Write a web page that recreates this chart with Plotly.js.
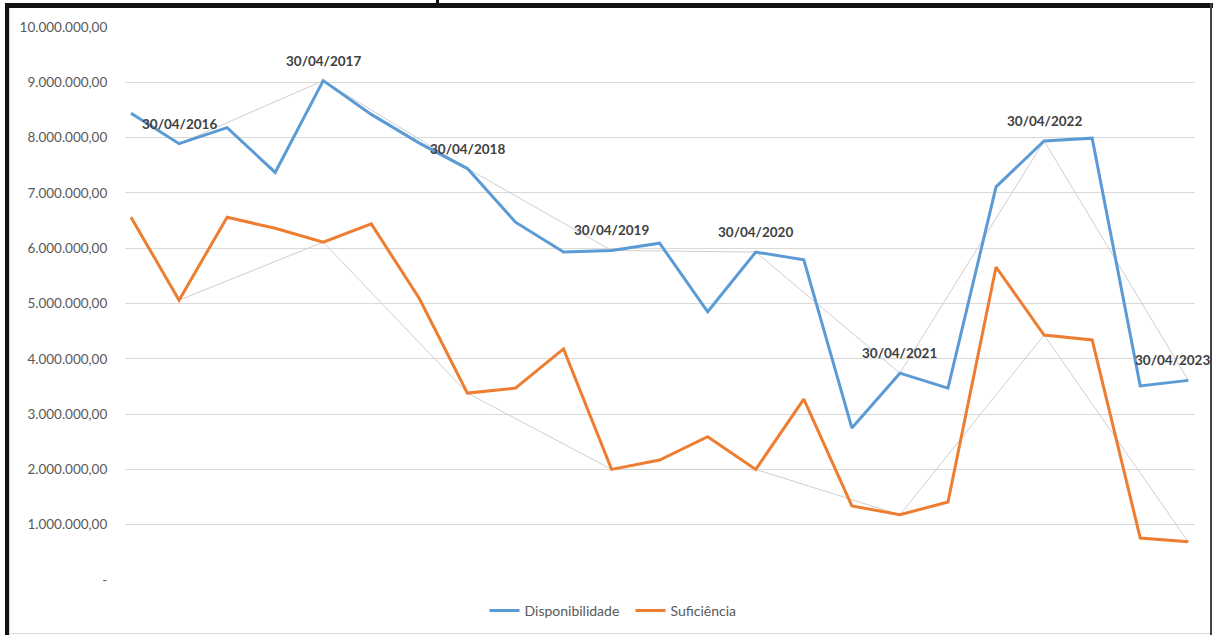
<!DOCTYPE html>
<html>
<head>
<meta charset="utf-8">
<script src="https://cdn.plot.ly/plotly-3.0.1.min.js"></script>
<style>
  html, body { margin: 0; padding: 0; background: #fff; }
  #wrap { position: relative; width: 1213px; height: 635px; overflow: hidden; }
  #chart { position: absolute; left: 0; top: 0; width: 1213px; height: 635px; }
  .bar { position: absolute; pointer-events: none; }
</style>
</head>
<body>
<div id="wrap">
  <div id="chart"></div>
  <div class="bar" style="left:5px; top:3px; width:1208px; height:5px; background:#111;"></div>
  <div class="bar" style="left:5px; top:3px; width:4px; height:632px; background:#111;"></div>
  <div class="bar" style="left:1210px; top:3px; width:2px; height:632px; background:#444;"></div>
  <div class="bar" style="left:9px; top:8px; width:1px; height:627px; background:#d9d9d9;"></div>
  <div class="bar" style="left:9px; top:633px; width:1201px; height:1px; background:#d9d9d9;"></div>
  <div class="bar" style="left:436px; top:0px; width:3px; height:3px; background:#111;"></div>
</div>
<script>
// Dates of each observation (every 4 months)
const categories = [
  '31/12/2015','30/04/2016','31/08/2016','31/12/2016',
  '30/04/2017','31/08/2017','31/12/2017',
  '30/04/2018','31/08/2018','31/12/2018',
  '30/04/2019','31/08/2019','31/12/2019',
  '30/04/2020','31/08/2020','31/12/2020',
  '30/04/2021','31/08/2021','31/12/2021',
  '30/04/2022','31/08/2022','31/12/2022',
  '30/04/2023'
];
const disponibilidade = [
  8440000, 7890000, 8180000, 7370000,
  9030000, 8420000, 7900000,
  7440000, 6470000, 5930000,
  5960000, 6090000, 4850000,
  5930000, 5790000, 2750000,
  3740000, 3470000, 7110000,
  7940000, 7990000, 3510000,
  3610000
];
const suficiencia = [
  6560000, 5060000, 6560000, 6360000,
  6110000, 6440000, 5090000,
  3380000, 3470000, 4180000,
  2000000, 2170000, 2590000,
  2000000, 3270000, 1340000,
  1180000, 1410000, 5660000,
  4430000, 4340000, 760000,
  690000
];
const yTickVals = [0,1000000,2000000,3000000,4000000,5000000,6000000,7000000,8000000,9000000,10000000];
const yTickText = ['-','1.000.000,00','2.000.000,00','3.000.000,00','4.000.000,00','5.000.000,00','6.000.000,00','7.000.000,00','8.000.000,00','9.000.000,00','10.000.000,00'];

const BLUE = '#5B9BD5', ORANGE = '#ED7D31', GRAY = '#cfcfcf';

// Annual (30/04) points
const aprCats = categories.filter(c => c.startsWith('30/04'));
const aprDisp = categories.map((c,i) => [c, disponibilidade[i]]).filter(p => p[0].startsWith('30/04')).map(p => p[1]);
const aprSuf = categories.map((c,i) => [c, suficiencia[i]]).filter(p => p[0].startsWith('30/04')).map(p => p[1]);

const traces = [
  {x: aprCats, y: aprDisp, type: 'scatter', mode: 'lines', line: {color: GRAY, width: 1}, showlegend: false, hoverinfo: 'skip'},
  {x: aprCats, y: aprSuf, type: 'scatter', mode: 'lines', line: {color: GRAY, width: 1}, showlegend: false, hoverinfo: 'skip'},
  {x: categories, y: disponibilidade, type: 'scatter', mode: 'lines', name: 'Disponibilidade', line: {color: BLUE, width: 3}},
  {x: categories, y: suficiencia, type: 'scatter', mode: 'lines', name: 'Suficiência', line: {color: ORANGE, width: 3}}
];

const annotations = aprCats.map((c, k) => ({
  x: c, y: aprDisp[k], xref: 'x', yref: 'y',
  text: '<b>' + c + '</b>', showarrow: false,
  yanchor: 'middle', xanchor: 'center', yshift: 20,
  xshift: (k === aprCats.length - 1) ? -16 : 0,
  font: {family: 'Lato, "Open Sans", sans-serif', size: 13.5, color: '#404040'}
}));

const layout = {
  width: 1213, height: 635,
  margin: {l: 125, r: 18, t: 27, b: 55, autoexpand: false},
  paper_bgcolor: 'rgba(0,0,0,0)', plot_bgcolor: 'rgba(0,0,0,0)',
  font: {family: 'Lato, "Open Sans", sans-serif', size: 13, color: '#595959'},
  xaxis: {
    type: 'category', categoryorder: 'array', categoryarray: categories,
    range: [-0.125, 22.14], showticklabels: false, showgrid: false,
    zeroline: false, showline: false, ticks: ''
  },
  yaxis: {
    range: [0, 10000000], tickvals: yTickVals, ticktext: yTickText,
    showgrid: true, gridcolor: '#d9d9d9', gridwidth: 1, zeroline: false,
    showline: false, ticks: 'outside', ticklen: 14, tickcolor: 'rgba(0,0,0,0)',
    tickfont: {family: 'Lato, "Open Sans", sans-serif', size: 13.5, color: '#595959'}
  },
  legend: {
    orientation: 'h', x: 0.336, xanchor: 'left', y: -0.056, yanchor: 'middle',
    entrywidth: 101, entrywidthmode: 'pixels',
    font: {family: 'Lato, "Open Sans", sans-serif', size: 14, color: '#595959'},
    bgcolor: 'rgba(0,0,0,0)'
  },
  annotations: annotations,
  showlegend: true
};

Plotly.newPlot('chart', traces, layout, {displayModeBar: false, staticPlot: true});
</script>
</body>
</html>
